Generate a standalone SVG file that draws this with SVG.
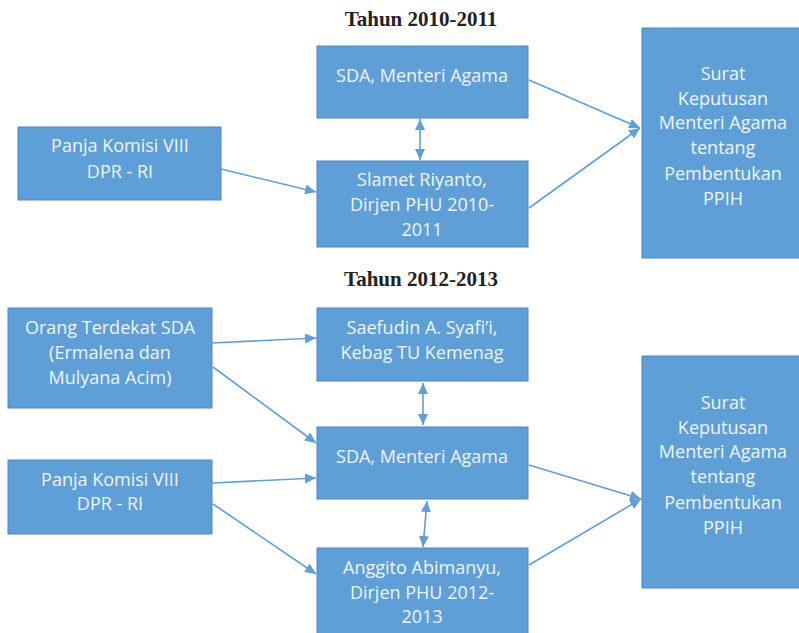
<svg xmlns="http://www.w3.org/2000/svg" width="799" height="633" viewBox="0 0 799 633">
<style>
.box{fill:#5f9fd7;stroke:#4d86bf;stroke-width:1}
.t{font-family:"Open Sans","Liberation Sans",sans-serif;font-size:18px;fill:#f0f5fb;text-anchor:middle}
.title{font-family:"Liberation Serif","Times New Roman",serif;font-size:21px;font-weight:bold;fill:#222;text-anchor:middle}
.c{stroke:#5f9fd7;stroke-width:1.6;fill:none;marker-end:url(#ah)}
.d{marker-start:url(#ah)}
</style>
<defs>
<marker id="ah" markerUnits="userSpaceOnUse" markerWidth="12" markerHeight="10" refX="11" refY="5" orient="auto-start-reverse">
<path d="M0,0 L11,5 L0,10 z" fill="#5f9fd7"/>
</marker>
</defs>
<rect width="799" height="633" fill="#ffffff"/>
<text class="title" x="421" y="26">Tahun 2010-2011</text>
<text class="title" x="421" y="286">Tahun 2012-2013</text>

<g id="sda1"><rect class="box" x="317" y="46" width="211" height="72"/><text class="t" x="422" y="82">SDA, Menteri Agama</text></g>
<g id="panja1"><rect class="box" x="18" y="127" width="203" height="73"/><text class="t" x="120" y="152">Panja Komisi VIII</text><text class="t" x="120" y="178">DPR - RI</text></g>
<g id="slamet"><rect class="box" x="317" y="161" width="211" height="86"/><text class="t" x="422" y="186">Slamet Riyanto,</text><text class="t" x="422" y="211">Dirjen PHU 2010-</text><text class="t" x="422" y="236">2011</text></g>
<g id="surat1"><rect class="box" x="642" y="28" width="170" height="230"/><text class="t" x="723" y="80">Surat</text><text class="t" x="723" y="105">Keputusan</text><text class="t" x="723" y="129">Menteri Agama</text><text class="t" x="723" y="154">tentang</text><text class="t" x="723" y="180">Pembentukan</text><text class="t" x="723" y="205">PPIH</text></g>

<g id="orang"><rect class="box" x="8" y="308" width="204" height="100"/><text class="t" x="110" y="334">Orang Terdekat SDA</text><text class="t" x="110" y="359">(Ermalena dan</text><text class="t" x="110" y="384">Mulyana Acim)</text></g>
<g id="panja2"><rect class="box" x="8" y="460" width="204" height="74"/><text class="t" x="110" y="486">Panja Komisi VIII</text><text class="t" x="110" y="510">DPR - RI</text></g>
<g id="saefudin"><rect class="box" x="317" y="308" width="211" height="73"/><text class="t" x="422" y="334">Saefudin A. Syafi’i,</text><text class="t" x="422" y="359">Kebag TU Kemenag</text></g>
<g id="sda2"><rect class="box" x="317" y="427" width="211" height="72"/><text class="t" x="422" y="463">SDA, Menteri Agama</text></g>
<g id="anggito"><rect class="box" x="317" y="548" width="211" height="100"/><text class="t" x="422" y="574">Anggito Abimanyu,</text><text class="t" x="422" y="599">Dirjen PHU 2012-</text><text class="t" x="422" y="623">2013</text></g>
<g id="surat2"><rect class="box" x="642" y="356" width="170" height="232"/><text class="t" x="723" y="409">Surat</text><text class="t" x="723" y="434">Keputusan</text><text class="t" x="723" y="458">Menteri Agama</text><text class="t" x="723" y="483">tentang</text><text class="t" x="723" y="509">Pembentukan</text><text class="t" x="723" y="534">PPIH</text></g>

<g id="connectors">
<line class="c" x1="221" y1="169" x2="316" y2="192"/>
<line class="c d" x1="420" y1="119" x2="420" y2="160"/>
<line class="c" x1="529" y1="80" x2="640" y2="128"/>
<line class="c" x1="529" y1="208" x2="640" y2="128"/>
<line class="c" x1="212" y1="343" x2="316" y2="338"/>
<line class="c" x1="213" y1="367" x2="316" y2="443"/>
<line class="c" x1="212" y1="483" x2="316" y2="478"/>
<line class="c" x1="213" y1="504" x2="316" y2="574"/>
<line class="c d" x1="423" y1="383" x2="423" y2="425"/>
<line class="c d" x1="427" y1="501" x2="423" y2="547"/>
<line class="c" x1="529" y1="465" x2="641" y2="499"/>
<line class="c" x1="529" y1="565" x2="641" y2="499"/>
</g>
</svg>
